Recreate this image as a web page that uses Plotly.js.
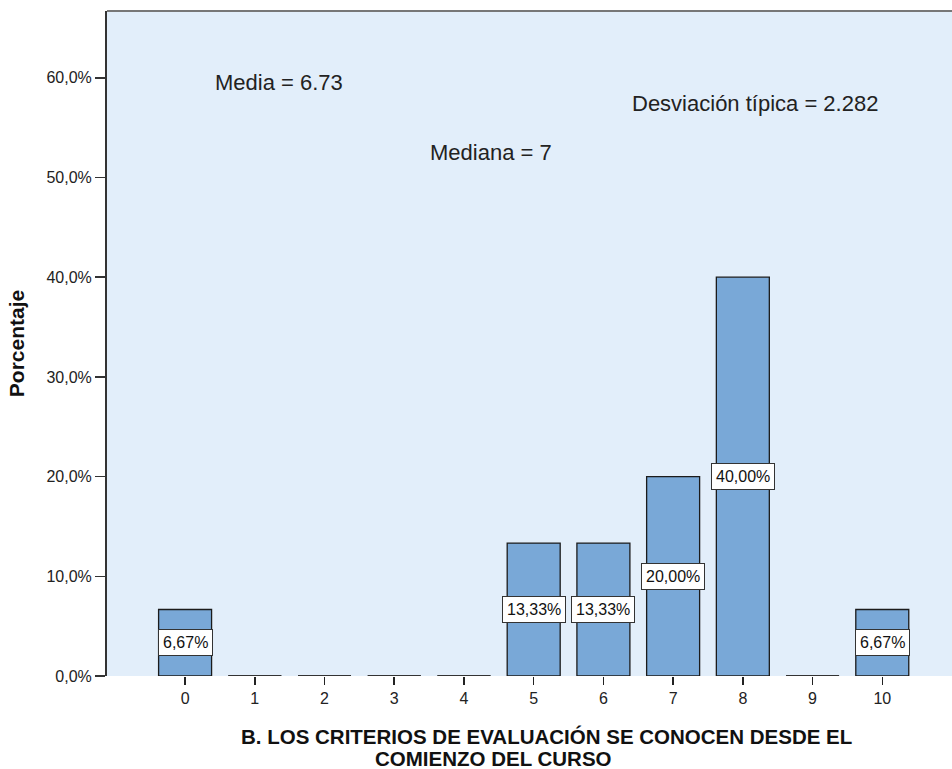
<!DOCTYPE html>
<html>
<head>
<meta charset="utf-8">
<script src="https://cdn.plot.ly/plotly-3.0.1.min.js"></script>
<style>html,body{margin:0;padding:0;background:#fff;}#chart{width:952px;height:769px;}</style>
</head>
<body>
<div id="chart"></div>
<script>
const categories = [0, 1, 2, 3, 4, 5, 6, 7, 8, 9, 10];
const percentages = [6.67, 0, 0, 0, 0, 13.33, 13.33, 20.00, 40.00, 0, 6.67];
const barLabels = ["6,67%", "", "", "", "", "13,33%", "13,33%", "20,00%", "40,00%", "", "6,67%"];
const statTexts = ["Media = 6.73", "Mediana = 7", "Desviación típica = 2.282"];
const yTickVals = [0, 10, 20, 30, 40, 50, 60];
const yTickText = ["0,0%", "10,0%", "20,0%", "30,0%", "40,0%", "50,0%", "60,0%"];
const xTitleLines = ["B. LOS CRITERIOS DE EVALUACIÓN SE CONOCEN DESDE EL", "COMIENZO DEL CURSO"];
const yTitle = "Porcentaje";

const barWidth = 0.76;
const FONT = 'Liberation Sans, Arial, sans-serif';

// zero-valued categories drawn as flat outlines at the baseline
const zx = [], zy = [];
categories.forEach((c, i) => {
  if (percentages[i] === 0) {
    zx.push(c - barWidth / 2, c + barWidth / 2, null);
    zy.push(0, 0, null);
  }
});

const traces = [
  {
    type: 'bar',
    x: categories,
    y: percentages,
    width: barWidth,
    marker: { color: '#79A8D7', line: { color: '#1b1b1b', width: 1.3 } },
    hoverinfo: 'x+y',
    showlegend: false
  },
  {
    type: 'scatter',
    mode: 'lines',
    x: zx,
    y: zy,
    line: { color: '#333333', width: 2 },
    hoverinfo: 'skip',
    showlegend: false,
    cliponaxis: false
  }
];

const L = 107, T = 11, W = 952 - 107, H = 676 - 11;
const px = v => (v - L) / W;
const py = v => 1 - (v - T) / H;

const annotations = [];
categories.forEach((c, i) => {
  if (barLabels[i]) {
    annotations.push({
      x: c, y: percentages[i] / 2, xref: 'x', yref: 'y',
      text: barLabels[i], showarrow: false,
      font: { family: FONT, size: 16, color: '#111' },
      bgcolor: '#ffffff', bordercolor: '#333333', borderwidth: 1, borderpad: 4
    });
  }
});
const statPos = [[213, 83], [428, 153], [630, 104]];
statTexts.forEach((t, i) => {
  annotations.push({
    x: px(statPos[i][0]), y: py(statPos[i][1]), xref: 'paper', yref: 'paper',
    text: t, showarrow: false, xanchor: 'left', yanchor: 'middle',
    font: { family: FONT, size: 22, color: '#222' }
  });
});
const titlePos = [[546, 736], [493, 758]];
xTitleLines.forEach((t, i) => {
  annotations.push({
    x: px(titlePos[i][0]), y: py(titlePos[i][1]), xref: 'paper', yref: 'paper',
    text: t, showarrow: false, xanchor: 'center', yanchor: 'middle',
    font: { family: FONT, size: 20.5, color: '#111', weight: 'bold' }
  });
});

const layout = {
  width: 952, height: 769,
  margin: { l: 107, r: 0, t: 11, b: 93, pad: 0 },
  paper_bgcolor: '#ffffff',
  plot_bgcolor: '#E2EEFA',
  font: { family: FONT, size: 16, color: '#222' },
  xaxis: {
    range: [-1.12, 11.0],
    tickvals: categories,
    ticktext: categories.map(String),
    ticks: 'outside', ticklen: 8, tickwidth: 1.5, tickcolor: '#222',
    showgrid: false, zeroline: false, showline: false,
    tickfont: { family: FONT, size: 16, color: '#222' },
    fixedrange: true
  },
  yaxis: {
    range: [0, 66.7],
    tickvals: yTickVals,
    ticktext: yTickText,
    ticks: 'outside', ticklen: 10, tickwidth: 1.5, tickcolor: '#333',
    showgrid: false, zeroline: false,
    showline: true, linecolor: '#333', linewidth: 2,
    tickfont: { family: FONT, size: 16, color: '#222' },
    title: {
      text: yTitle,
      font: { family: FONT, size: 21, color: '#111', weight: 'bold' },
      standoff: 16
    },
    fixedrange: true
  },
  shapes: [
    { type: 'line', xref: 'paper', yref: 'paper', x0: 0, x1: 1, y0: 1, y1: 1,
      line: { color: '#777777', width: 2 } }
  ],
  annotations: annotations
};

Plotly.newPlot('chart', traces, layout, { displayModeBar: false, staticPlot: true });
</script>
</body>
</html>
